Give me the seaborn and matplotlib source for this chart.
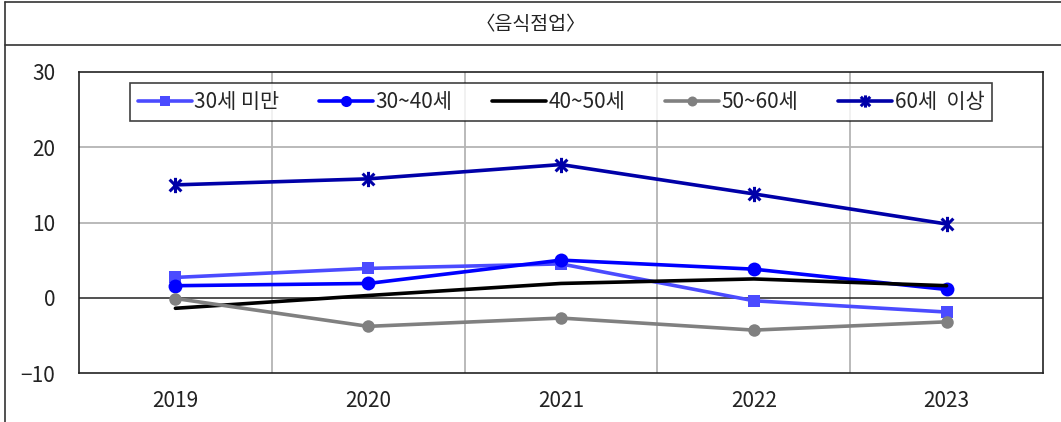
import matplotlib
matplotlib.use("Agg")
import matplotlib.pyplot as plt
from matplotlib.lines import Line2D
from matplotlib.path import Path
import numpy as np
import pandas as pd
import seaborn as sns

# Data
years = ["2019", "2020", "2021", "2022", "2023"]
under_30 = [2.7, 3.9, 4.5, -0.4, -1.9]
age_30_40 = [1.6, 1.9, 5.0, 3.8, 1.1]
age_40_50 = [-1.4, 0.3, 1.9, 2.5, 1.6]
age_50_60 = [-0.1, -3.8, -2.7, -4.3, -3.2]
over_60 = [15.0, 15.8, 17.7, 13.8, 9.8]

series_names = ["30세 미만", "30~40세", "40~50세", "50~60세", "60세  이상"]
series_values = [under_30, age_30_40, age_40_50, age_50_60, over_60]
title = "〈음식점업〉"
y_ticks = [-10, 0, 10, 20, 30]

sns.set_theme(style="white")
plt.rcParams["font.family"] = ["Noto Sans CJK KR", "DejaVu Sans"]
plt.rcParams["axes.unicode_minus"] = True

# Asterisk-style marker: an X crossed by a vertical stroke
star_path = Path(
    [(-1, -1), (1, 1), (-1, 1), (1, -1), (0, -1.3), (0, 1.3)],
    [Path.MOVETO, Path.LINETO, Path.MOVETO, Path.LINETO, Path.MOVETO, Path.LINETO],
)

colors = ["#4B4BFF", "#0000FF", "#000000", "#808080", "#0000A8"]
markers = ["s", "o", None, "o", star_path]
msizes = [9, 10, 0, 9, 11]

rows = []
for name, vals in zip(series_names, series_values):
    for i, (yr, v) in enumerate(zip(years, vals)):
        rows.append({"series": name, "x": i, "year": yr, "value": v})
df = pd.DataFrame(rows)

fig = plt.figure(figsize=(10.61, 4.22), dpi=100)
ax = fig.add_axes([79 / 1061, 1 - 373 / 422, (1043 - 79) / 1061, (373 - 72) / 422])

for name, c, m, ms in zip(series_names, colors, markers, msizes):
    sub = df[df["series"] == name]
    kw = {}
    if m is not None:
        kw = dict(marker=m, markersize=ms, markeredgewidth=2.2 if m is star_path else 0,
                  markerfacecolor=c, markeredgecolor=c)
    sns.lineplot(data=sub, x="x", y="value", ax=ax, color=c, linewidth=2.6,
                 label=name, sort=False, estimator=None, zorder=3, **kw)

ax.set_xlim(-0.5, len(years) - 0.5)
ax.set_ylim(-10, 30)
ax.set_yticks(y_ticks)
ax.set_yticklabels([("−" + str(abs(t))) if t < 0 else str(t) for t in y_ticks])
ax.set_xticks(range(len(years)))
ax.set_xticklabels(years)
ax.set_xlabel("")
ax.set_ylabel("")

ax.grid(False)
for t in [10, 20]:
    ax.axhline(t, color="#B4B4B4", linewidth=1.3, zorder=1)
for xm in np.arange(0.5, len(years) - 0.5, 1):
    ax.axvline(xm, color="#B4B4B4", linewidth=1.3, zorder=1)
ax.axhline(0, color="#222222", linewidth=1.1, zorder=2)

ax.tick_params(axis="both", which="both", length=0, labelsize=15, colors="#222222")
ax.tick_params(axis="y", pad=17)
ax.tick_params(axis="x", pad=12)
for s in ax.spines.values():
    s.set_color("#222222")
    s.set_linewidth(1.2)

leg = ax.legend(loc="upper center", bbox_to_anchor=(0.5, 0.962), ncol=5,
                frameon=True, fancybox=False, fontsize=15, handlelength=2.6,
                handletextpad=0.12, columnspacing=1.9, borderpad=0.38,
                borderaxespad=0, markerscale=0.8)
leg.get_frame().set_edgecolor("#111111")
leg.get_frame().set_linewidth(1.2)

# Header band and frame lines
fig.text(0.5, 1 - 24 / 422, title, ha="center", va="center", fontsize=14, color="#222222")
for yy in [1 - 2 / 422, 1 - 45 / 422]:
    fig.add_artist(Line2D([5 / 1061, 1], [yy, yy], color="#333333", linewidth=1.2))
fig.add_artist(Line2D([5 / 1061, 5 / 1061], [0, 1 - 2 / 422], color="#333333", linewidth=1.2))

fig.savefig("out.png", dpi=100)
